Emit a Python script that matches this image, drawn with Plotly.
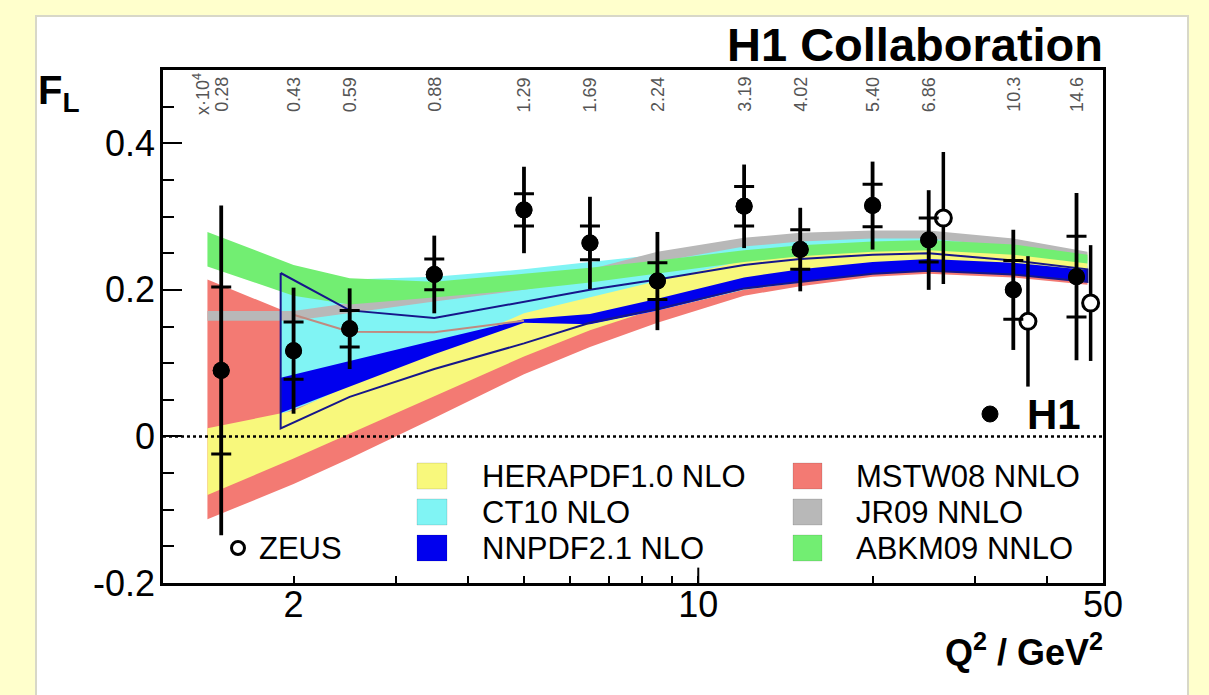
import numpy as np
import plotly.graph_objects as go

# ---------------- data ----------------
# H1 measurement
h1_q2 = [1.5, 2, 2.5, 3.5, 5, 6.5, 8.5, 12, 15, 20, 25, 35, 45]
h1_fl = [0.090, 0.117, 0.147, 0.221, 0.309, 0.264, 0.212, 0.314, 0.255, 0.315, 0.268, 0.200, 0.218]
h1_stat = [0.114, 0.039, 0.025, 0.021, 0.022, 0.023, 0.025, 0.027, 0.027, 0.029, 0.030, 0.040, 0.055]
h1_tot = [0.225, 0.086, 0.055, 0.053, 0.059, 0.063, 0.067, 0.057, 0.057, 0.060, 0.068, 0.082, 0.114]
xbj_labels = ["0.28", "0.43", "0.59", "0.88", "1.29", "1.69", "2.24", "3.19", "4.02", "5.40", "6.86", "10.3", "14.6"]

# ZEUS measurement
zeus_q2 = [26.5, 37.1, 47.6]
zeus_fl = [0.298, 0.157, 0.182]
zeus_tot = [0.090, 0.089, 0.079]

# theory bands
knots = [1.42, 2, 2.5, 3.5, 5, 6.5, 8.5, 12, 15, 20, 25, 35, 47]
knots_hi_q = [1.9, 2.5, 3.5, 5, 6.5, 8.5, 12, 15, 20, 25, 35, 47]

mstw_lo = [-0.113, -0.065, -0.030, 0.025, 0.085, 0.122, 0.155, 0.192, 0.205, 0.218, 0.222, 0.217, 0.207]
mstw_hi = [0.214, 0.166, 0.143, 0.142, 0.158, 0.180, 0.198, 0.229, 0.240, 0.248, 0.250, 0.242, 0.232]
hera_lo = [-0.080, -0.030, 0.004, 0.055, 0.109, 0.145, 0.175, 0.205, 0.215, 0.226, 0.230, 0.226, 0.216]
hera_hi = [0.011, 0.035, 0.070, 0.115, 0.168, 0.190, 0.212, 0.240, 0.249, 0.257, 0.260, 0.257, 0.250]
jr_lo = [0.158, 0.158, 0.168, 0.184, 0.200, 0.215, 0.238, 0.259, 0.266, 0.270, 0.270, 0.258, 0.240]
jr_hi = [0.171, 0.171, 0.182, 0.196, 0.213, 0.228, 0.252, 0.271, 0.278, 0.281, 0.281, 0.270, 0.252]
abkm_lo = [0.232, 0.192, 0.180, 0.190, 0.200, 0.210, 0.222, 0.238, 0.246, 0.252, 0.254, 0.248, 0.236]
abkm_hi = [0.279, 0.234, 0.216, 0.211, 0.222, 0.230, 0.240, 0.254, 0.261, 0.266, 0.268, 0.262, 0.248]
ct10_lo = [0.030, 0.066, 0.110, 0.150, 0.153, 0.172, 0.200, 0.210, 0.222, 0.226, 0.221, 0.211]
ct10_hi = [0.223, 0.214, 0.218, 0.228, 0.238, 0.248, 0.262, 0.268, 0.273, 0.273, 0.262, 0.245]
nnpdf_lo = [0.032, 0.068, 0.112, 0.155, 0.153, 0.172, 0.201, 0.211, 0.222, 0.226, 0.221, 0.211]
nnpdf_hi = [0.080, 0.103, 0.131, 0.160, 0.167, 0.188, 0.217, 0.228, 0.238, 0.242, 0.237, 0.227]
# outline envelope
env_lo = [0.011, 0.054, 0.092, 0.127, 0.155, 0.174, 0.202, 0.211, 0.222, 0.226, 0.221, 0.211]
env_hi = [0.223, 0.172, 0.1615, 0.184, 0.200, 0.214, 0.234, 0.242, 0.248, 0.250, 0.240, 0.228]

legend_names = ["HERAPDF1.0 NLO", "CT10 NLO", "NNPDF2.1 NLO", "MSTW08 NNLO", "JR09 NNLO", "ABKM09 NNLO"]
legend_colors = ["#f8f87c", "#80f4f4", "#0000ee", "#f37a73", "#b8b8b8", "#72ee72"]

# ---------------- layout geometry ----------------
W, H = 1209, 695
L, R, T, B = 163, 1103, 70, 583
XMIN, XMAX = 1.19, 50.0
FONT = "Liberation Sans, Arial, Helvetica, sans-serif"


def px2xp(px):
    return (px - L) / (R - L)


def py2yp(py):
    return (B - py) / (B - T)


def q2xp(q):
    return (np.log10(q) - np.log10(XMIN)) / (np.log10(XMAX) - np.log10(XMIN))


fig = go.Figure()


def band(q, lo, hi, color):
    xs = list(q) + list(q)[::-1]
    ys = list(hi) + list(lo)[::-1]
    fig.add_trace(go.Scatter(x=xs, y=ys, fill="toself", fillcolor=color, mode="lines",
                             line=dict(width=0, color=color), hoverinfo="skip", showlegend=False))


band(knots, mstw_lo, mstw_hi, legend_colors[3])
band(knots_hi_q, ct10_lo, ct10_hi, legend_colors[1])
band(knots, hera_lo, hera_hi, legend_colors[0])
band(knots_hi_q, nnpdf_lo, nnpdf_hi, legend_colors[2])
band(knots, jr_lo, jr_hi, legend_colors[4])
band(knots, abkm_lo, abkm_hi, legend_colors[5])

# MSTW upper edge line
fig.add_trace(go.Scatter(x=knots[1:5], y=mstw_hi[1:5], mode="lines",
                         line=dict(color="#c08a80", width=2), hoverinfo="skip", showlegend=False))

# envelope outline
env_x = list(knots_hi_q) + list(knots_hi_q)[::-1] + [knots_hi_q[0]]
env_y = list(env_hi) + list(env_lo)[::-1] + [env_hi[0]]
fig.add_trace(go.Scatter(x=env_x, y=env_y, mode="lines", line=dict(color="#16168a", width=2),
                         hoverinfo="skip", showlegend=False))

# zero line
fig.add_trace(go.Scatter(x=[XMIN, XMAX], y=[0, 0], mode="lines",
                         line=dict(color="black", width=2.5, dash="dot"), hoverinfo="skip", showlegend=False))

# long tick at 10
fig.add_trace(go.Scatter(x=[10, 10], y=[-0.2, -0.179], mode="lines",
                         line=dict(color="black", width=2), hoverinfo="skip", showlegend=False))

# ZEUS
fig.add_trace(go.Scatter(x=zeus_q2, y=zeus_fl, mode="markers",
                         marker=dict(symbol="circle", size=16, color="white", line=dict(color="black", width=3)),
                         error_y=dict(type="data", array=zeus_tot, visible=True, color="black", thickness=3.5, width=0),
                         showlegend=False))

# H1 total
fig.add_trace(go.Scatter(x=h1_q2, y=h1_fl, mode="markers",
                         marker=dict(size=17, color="black"),
                         error_y=dict(type="data", array=h1_tot, visible=True, color="black", thickness=3.8, width=0),
                         showlegend=False))
# H1 stat
fig.add_trace(go.Scatter(x=h1_q2, y=h1_fl, mode="markers",
                         marker=dict(size=17, color="black"),
                         error_y=dict(type="data", array=h1_stat, visible=True, color="black", thickness=3, width=10),
                         showlegend=False))

shapes = []
annotations = []

# white panel
shapes.append(dict(type="rect", xref="paper", yref="paper", x0=px2xp(36), x1=px2xp(1188),
                   y0=py2yp(730), y1=py2yp(16), fillcolor="white", line=dict(color="#d8d8c8", width=2),
                   layer="below"))

# legend squares & labels
rows = [476, 512, 548]
cols = [(417, 447, 480), (793, 822, 854)]
for i, (name, col) in enumerate(zip(legend_names, legend_colors)):
    c = cols[i // 3]
    r = rows[i % 3]
    shapes.append(dict(type="rect", xref="paper", yref="paper", x0=px2xp(c[0]), x1=px2xp(c[1]),
                       y0=py2yp(r + 13), y1=py2yp(r - 13), fillcolor=col,
                       line=dict(color="rgba(0,0,0,0.12)", width=1), layer="above"))
    annotations.append(dict(xref="paper", yref="paper", x=px2xp(c[2]), y=py2yp(r), text=name,
                            xanchor="left", yanchor="middle", showarrow=False,
                            font=dict(family=FONT, size=31, color="black")))

# ZEUS legend
shapes.append(dict(type="circle", xref="paper", yref="paper", x0=px2xp(231.5), x1=px2xp(244.5),
                   y0=py2yp(554.5), y1=py2yp(541.5), fillcolor="white", line=dict(color="black", width=3)))
annotations.append(dict(xref="paper", yref="paper", x=px2xp(257), y=py2yp(548), text="ZEUS",
                        xanchor="left", yanchor="middle", showarrow=False,
                        font=dict(family=FONT, size=31, color="black")))

# H1 legend
shapes.append(dict(type="circle", xref="paper", yref="paper", x0=px2xp(982), x1=px2xp(998),
                   y0=py2yp(422), y1=py2yp(406), fillcolor="black", line=dict(color="black", width=1)))
annotations.append(dict(xref="paper", yref="paper", x=px2xp(1025), y=py2yp(414), text="<b>H1</b>",
                        xanchor="left", yanchor="middle", showarrow=False,
                        font=dict(family=FONT, size=42, color="black")))

# titles
annotations.append(dict(xref="paper", yref="paper", x=px2xp(1105), y=py2yp(45), text="<b>H1 Collaboration</b>",
                        xanchor="right", yanchor="middle", showarrow=False,
                        font=dict(family=FONT, size=47, color="black")))
annotations.append(dict(xref="paper", yref="paper", x=px2xp(36), y=py2yp(93), text="<b>F<sub>L</sub></b>",
                        xanchor="left", yanchor="middle", showarrow=False,
                        font=dict(family=FONT, size=40, color="black")))
annotations.append(dict(xref="paper", yref="paper", x=px2xp(1105), y=py2yp(650),
                        text="<b>Q<sup>2</sup> / GeV<sup>2</sup></b>",
                        xanchor="right", yanchor="middle", showarrow=False,
                        font=dict(family=FONT, size=36, color="black")))

# x-Bjorken labels on top
for q, lab in zip(h1_q2, xbj_labels):
    annotations.append(dict(xref="paper", yref="paper", x=q2xp(q), y=py2yp(114), text=lab,
                            textangle=-90, xanchor="center", yanchor="bottom", showarrow=False,
                            font=dict(family=FONT, size=18, color="#555555")))
annotations.append(dict(xref="paper", yref="paper", x=px2xp(201), y=py2yp(117), text="x·10<sup>4</sup>",
                        textangle=-90, xanchor="center", yanchor="bottom", showarrow=False,
                        font=dict(family=FONT, size=18, color="#555555")))

fig.update_layout(
    width=W, height=H, autosize=False,
    margin=dict(l=L, r=W - R, t=T, b=H - B, pad=0),
    paper_bgcolor="#ffffcc", plot_bgcolor="white",
    shapes=shapes, annotations=annotations, showlegend=False,
    font=dict(family=FONT, color="black"),
)
fig.update_xaxes(type="log", range=[np.log10(XMIN), np.log10(XMAX)],
                 tickvals=[2, 10, 50], ticktext=["2", "10", "50"],
                 ticks="inside", ticklen=7, tickwidth=2, tickcolor="black",
                 minor=dict(tickvals=[3, 4, 5, 6, 7, 8, 9, 20, 30, 40], ticks="inside", ticklen=7,
                            tickwidth=2, tickcolor="black", showgrid=False),
                 showline=True, linewidth=2.5, linecolor="black", mirror=True,
                 showgrid=False, zeroline=False, tickfont=dict(family=FONT, size=36),
                 ticklabelstandoff=-12)
fig.update_yaxes(range=[-0.2, 0.5], tickvals=[-0.2, 0, 0.2, 0.4], ticktext=["-0.2", "0", "0.2", "0.4"],
                 ticks="inside", ticklen=19, tickwidth=2, tickcolor="black",
                 minor=dict(dtick=0.05, tick0=0, ticks="inside", ticklen=11, tickwidth=2,
                            tickcolor="black", showgrid=False),
                 showline=True, linewidth=2.5, linecolor="black", mirror=True,
                 showgrid=False, zeroline=False, tickfont=dict(family=FONT, size=36),
                 ticklabelstandoff=-2)

fig.write_html("out.html")
